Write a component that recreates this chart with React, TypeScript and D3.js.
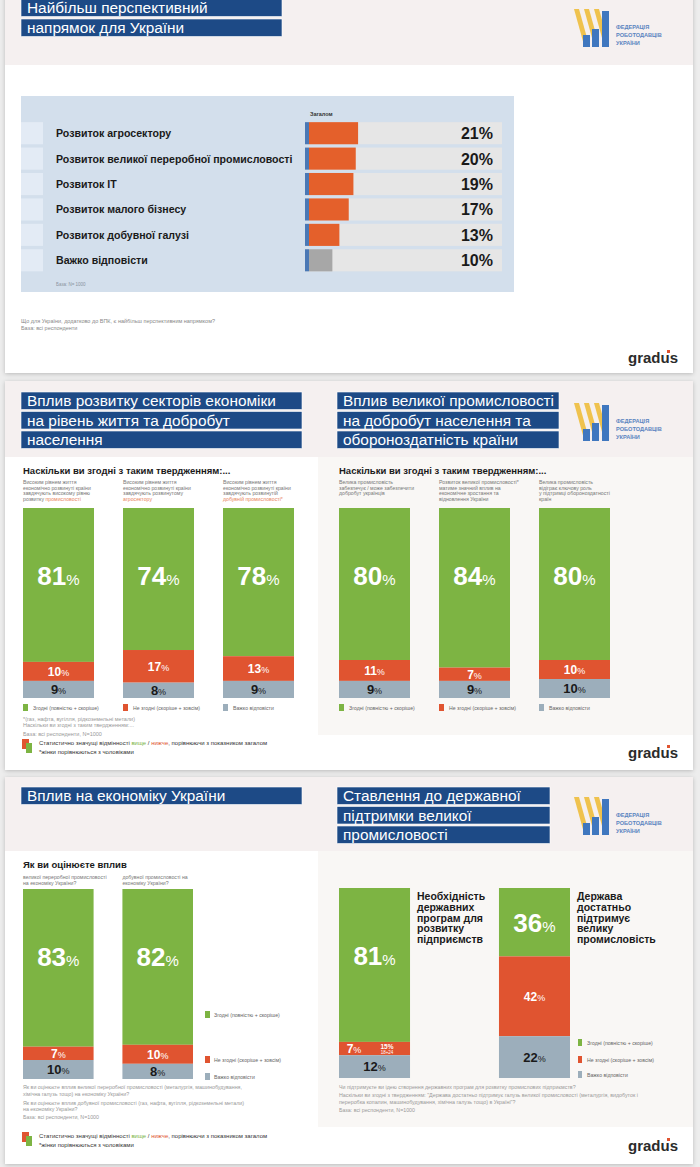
import React, { useRef, useEffect } from "react";
import * as d3 from "d3";

const W = 700;
const H = 1167;
const SANS = "'Liberation Sans', Arial, sans-serif";

const GREEN = "#7db443";
const RED = "#e05430";
const GREY_BLUE = "#9caebb";
const NAVY = "#1d4a86";
const ORANGE = "#e4602b";
const HILITE = "#e8845c";

// slide 1: most promising direction
const directions = [
    "Розвиток агросектору",
    "Розвиток великої переробної промисловості",
    "Розвиток IT",
    "Розвиток малого бізнесу",
    "Розвиток добувної галузі",
    "Важко відповісти",
];
const directionValues = [21, 20, 19, 17, 13, 10];

const legendLabels = ["Згодні (повністю + скоріше)", "Не згодні (скоріше + зовсім)", "Важко відповісти"];

// slide 2 left: sectors and living standard
const sectorQuestions = [
    ["Високим рівнем життя", "економічно розвинуті країни", "завдячують високому рівню", "розвитку |промисловості|"],
    ["Високим рівнем життя", "економічно розвинуті країни", "завдячують розвинутому", "|агросектору|"],
    ["Високим рівнем життя", "економічно розвинуті країни", "завдячують розвинутій", "|добувній промисловості*|"],
];
const sectorAgree = [81, 74, 78];
const sectorDisagree = [10, 17, 13];
const sectorHard = [9, 8, 9];

// slide 2 right: big industry
const industryQuestions = [
    ["Велика промисловість", "забезпечує / може забезпечити", "добробут українців"],
    ["Розвиток великої промисловості*", "матиме значний вплив на", "економічне зростання та", "відновлення України"],
    ["Велика промисловість", "відіграє ключову роль", "у підтримці обороноздатності", "країн"],
];
const industryAgree = [80, 84, 80];
const industryDisagree = [11, 7, 10];
const industryHard = [9, 9, 10];

// slide 3 left: impact on economy
const economyQuestions = [
    ["великої переробної промисловості", "на економіку України?"],
    ["добувної промисловості  на", "економіку України?"],
];
const economyAgree = [83, 82];
const economyDisagree = [7, 10];
const economyHard = [10, 8];

// slide 3 right: state support
const supportTitles = [
    ["Необхідність", "державних", "програм для", "розвитку", "підприємств"],
    ["Держава", "достатньо", "підтримує", "велику", "промисловість"],
];
const supportAgree = [81, 36];
const supportDisagree = [7, 42];
const supportHard = [12, 22];
const supportNote = { bar: 0, value: "15%", group: "18+24" };

const segColors = [GREEN, RED, GREY_BLUE];

type Sel = d3.Selection<any, any, any, any>;

function txt(g: Sel, x: number, y: number, s: string, size: number, fill = "#888", weight = "normal", anchor = "start") {
    return g.append("text")
        .attr("x", x).attr("y", y)
        .attr("font-family", SANS)
        .attr("font-size", size)
        .attr("font-weight", weight)
        .attr("fill", fill)
        .attr("text-anchor", anchor)
        .text(s);
}

function pct(g: Sel, x: number, y: number, v: string, size: number, pSize: number, fill: string, anchor = "middle") {
    const t = g.append("text")
        .attr("x", x).attr("y", y)
        .attr("font-family", SANS)
        .attr("font-weight", "bold")
        .attr("fill", fill)
        .attr("text-anchor", anchor);
    t.append("tspan").attr("font-size", size).text(v);
    t.append("tspan").attr("font-size", pSize).attr("font-weight", "normal").text("%");
    return t;
}

function drawCard(svg: Sel, top: number, bottom: number, headerBottom: number) {
    svg.append("rect")
        .attr("x", 5).attr("y", top).attr("width", 688).attr("height", bottom - top)
        .attr("fill", "#fff").attr("filter", "url(#shadow)");
    svg.append("rect")
        .attr("x", 5).attr("y", top).attr("width", 688).attr("height", headerBottom - top)
        .attr("fill", "#f5f0f0");
}

function drawTitle(svg: Sel, x: number, w: number, tops: number[], lines: string[]) {
    lines.forEach((l, i) => {
        svg.append("rect").attr("x", x).attr("y", tops[i]).attr("width", w).attr("height", 17.5)
            .attr("fill", NAVY).attr("stroke", "#fff").attr("stroke-width", 0.6);
        txt(svg, x + 6, tops[i] + 14.3, l, 15.4, "#fff");
    });
}

function drawLogo(svg: Sel, x: number, y: number) {
    const g = svg.append("g").attr("transform", `translate(${x},${y})`);
    // yellow slanted stripes
    [0, 10, 20].forEach(dx => {
        g.append("path")
            .attr("d", `M${dx},0 L${dx + 5},0 L${dx + 15},36 L${dx + 10},36 Z`)
            .attr("fill", "#efc24e");
    });
    // blue bars
    [[9, 26], [18, 20], [28, 2]].forEach(([bx, by]) => {
        g.append("rect").attr("x", bx).attr("y", by).attr("width", 7).attr("height", 38 - by).attr("fill", "#3f77bf");
    });
    ["ФЕДЕРАЦІЯ", "РОБОТОДАВЦІВ", "УКРАЇНИ"].forEach((s, i) => {
        txt(g, 42, 20 + i * 8, s, 5.6, "#5a84c0", "bold");
    });
}

function drawGradus(svg: Sel, y: number) {
    txt(svg, 628, y, "gradus", 15, "#2b2b2b", "bold");
    svg.append("rect").attr("x", 667).attr("y", y - 13).attr("width", 3).attr("height", 3).attr("fill", "#e05430");
}

function drawQuestion(g: Sel, x: number, y: number, lines: string[]) {
    lines.forEach((l, i) => {
        const t = g.append("text").attr("x", x).attr("y", y + i * 5.6)
            .attr("font-family", SANS).attr("font-size", 5.2).attr("fill", "#777");
        l.split("|").forEach((part, pi) => {
            if (part) t.append("tspan").attr("fill", pi % 2 ? HILITE : "#777").text(part);
        });
    });
}

function drawStatNote(svg: Sel, y: number) {
    svg.append("rect").attr("x", 22).attr("y", y).attr("width", 7).attr("height", 10).attr("fill", RED);
    svg.append("rect").attr("x", 26).attr("y", y + 4).attr("width", 6).attr("height", 10).attr("fill", GREEN);
    const t = svg.append("text").attr("x", 39).attr("y", y + 6)
        .attr("font-family", SANS).attr("font-size", 6).attr("fill", "#333");
    t.append("tspan").text("Статистично значущі відмінності ");
    t.append("tspan").attr("fill", GREEN).text("вище");
    t.append("tspan").text(" / ");
    t.append("tspan").attr("fill", RED).text("нижче");
    t.append("tspan").text(", порівнюючи з показником загалом");
    txt(svg, 39, y + 15, "*жінки порівнюються з чоловіками", 6, "#333");
}

function drawStack(
    svg: Sel,
    agree: number[], disagree: number[], hard: number[],
    range: [number, number], padding: number, top: number, bottom: number,
    bigY: number
) {
    const rows = agree.map((a, i) => ({ key: String(i), agree: a, disagree: disagree[i], hard: hard[i] }));
    const keys = ["agree", "disagree", "hard"];
    const series = d3.stack<any>().keys(keys).offset(d3.stackOffsetExpand)(rows);
    const x = d3.scaleBand().domain(rows.map(r => r.key)).range(range).paddingInner(padding);
    const y = d3.scaleLinear().domain([0, 1]).range([top, bottom]);

    series.forEach((s, si) => {
        svg.append("g").selectAll("rect").data(s).join("rect")
            .attr("x", (d: any) => x(d.data.key)!)
            .attr("y", (d: any) => y(d[0]))
            .attr("width", x.bandwidth())
            .attr("height", (d: any) => y(d[1]) - y(d[0]))
            .attr("fill", segColors[si]);
    });

    const sizes = [[26, 15, "#fff"], [12, 9, "#fff"], [13, 9, "#1a1a1a"]] as const;
    const labels: any[][] = [[], [], []];
    series.forEach((s, si) => {
        s.forEach((d: any, i: number) => {
            const cx = x(d.data.key)! + x.bandwidth() / 2;
            let cy = (y(d[0]) + y(d[1])) / 2;
            if (si === 0) cy = Math.min(cy, y(d[0]) + bigY);
            const [sz, psz, col] = sizes[si];
            labels[si].push(pct(svg, cx, cy + sz * 0.36, String(rows[i][keys[si]]), sz, psz, col));
        });
    });
    return { x, y, labels };
}

const App = () => {
    const svgRef = useRef<SVGSVGElement>(null);

    useEffect(() => {
        const svg = d3.select(svgRef.current);
        svg.selectAll("*").remove();

        const defs = svg.append("defs");
        const f = defs.append("filter").attr("id", "shadow").attr("x", "-5%").attr("y", "-5%").attr("width", "110%").attr("height", "110%");
        f.append("feDropShadow").attr("dx", 0).attr("dy", 1).attr("stdDeviation", 2).attr("flood-color", "#000").attr("flood-opacity", 0.22);

        svg.append("rect").attr("width", W).attr("height", H).attr("fill", "#ededed");

        // ---------- slide 1 ----------
        drawCard(svg, -10, 373, 65);
        drawTitle(svg, 21, 261, [-1, 19], ["Найбільш перспективний", "напрямок для України"]);
        drawLogo(svg, 574, 9);

        svg.append("rect").attr("x", 21).attr("y", 96).attr("width", 493).attr("height", 196).attr("fill", "#d3dfec");
        txt(svg, 310, 116, "Загалом", 5.5, "#333", "bold");

        const yRow = d3.scaleBand().domain(directions).range([120.5, 273]).paddingInner(0.13).paddingOuter(0.065);
        const xBar = d3.scaleLinear().domain([0, 80]).range([309, 496]);
        const rows1 = svg.append("g");
        directions.forEach((name, i) => {
            const y0 = yRow(name)!;
            const h = yRow.bandwidth();
            rows1.append("rect").attr("x", 21).attr("y", y0).attr("width", 22).attr("height", h).attr("fill", "#e3ebf5");
            txt(rows1, 56, y0 + h / 2 + 4, name, 10.6, "#1a1a1a", "bold");
            rows1.append("rect").attr("x", 305).attr("y", y0).attr("width", 197).attr("height", h).attr("fill", "#e6e6e6");
            rows1.append("rect").attr("x", xBar(0)).attr("y", y0).attr("width", xBar(directionValues[i]) - xBar(0)).attr("height", h)
                .attr("fill", i === directions.length - 1 ? "#a7a7a7" : ORANGE);
            rows1.append("rect").attr("x", 305).attr("y", y0).attr("width", 4).attr("height", h).attr("fill", "#4a78b5");
            txt(rows1, 493, y0 + h / 2 + 6, directionValues[i] + "%", 16, "#1a1a1a", "bold", "end");
        });
        txt(svg, 56, 286, "База: N= 1000", 4.5, "#8a93a0");
        txt(svg, 21, 323, "Що для України, додатково до ВПК, є найбільш перспективним напрямком?", 5.5, "#888");
        txt(svg, 21, 330, "База: всі респонденти", 5.5, "#888");
        drawGradus(svg, 363);

        // ---------- slide 2 ----------
        drawCard(svg, 381, 770, 457);
        svg.append("rect").attr("x", 318).attr("y", 457).attr("width", 375).attr("height", 278).attr("fill", "#f9f7f5");
        drawTitle(svg, 21, 281, [392, 411.5, 431], ["Вплив розвитку секторів економіки", "на рівень життя та добробут", "населення"]);
        drawTitle(svg, 337, 222, [392, 411.5, 431], ["Вплив великої промисловості", "на добробут населення та", "обороноздатність країни"]);
        drawLogo(svg, 574, 403);

        txt(svg, 23, 474, "Наскільки ви згодні з таким твердженням:...", 9.5, "#1a1a1a", "bold");
        txt(svg, 339, 474, "Наскільки ви згодні з таким твердженням:...", 9.5, "#1a1a1a", "bold");

        const xs = drawStack(svg, sectorAgree, sectorDisagree, sectorHard, [23, 294], 0.29, 508, 698, 68).x;
        const xi = drawStack(svg, industryAgree, industryDisagree, industryHard, [339, 610], 0.29, 508, 698, 68).x;
        sectorQuestions.forEach((q, i) => drawQuestion(svg, xs(String(i))!, 484, q));
        industryQuestions.forEach((q, i) => drawQuestion(svg, xi(String(i))!, 484, q));

        [xs, xi].forEach(xb => {
            legendLabels.forEach((l, i) => {
                const lx = xb(String(i))!;
                svg.append("rect").attr("x", lx).attr("y", 704).attr("width", 5).attr("height", 7).attr("fill", segColors[i]);
                txt(svg, lx + 10, 710, l, 5.2, "#666");
            });
        });

        txt(svg, 23, 721, "*(газ, нафта, вугілля, рідкоземельні метали)", 5.5, "#999");
        txt(svg, 23, 727, "Наскільки ви згодні з таким твердженням:...", 5.5, "#999");
        txt(svg, 23, 736, "База: всі респонденти, N=1000", 5.5, "#999");
        drawStatNote(svg, 739);
        drawGradus(svg, 758);

        // ---------- slide 3 ----------
        drawCard(svg, 777, 1164, 851);
        svg.append("rect").attr("x", 318).attr("y", 851).attr("width", 375).attr("height", 276).attr("fill", "#f9f7f5");
        drawTitle(svg, 21, 281, [787], ["Вплив на економіку України"]);
        drawTitle(svg, 337, 213, [787, 806.5, 826], ["Ставлення до державної", "підтримки великої", "промисловості"]);
        drawLogo(svg, 574, 797);

        txt(svg, 23, 868, "Як ви оцінюєте вплив", 9.5, "#1a1a1a", "bold");
        const xe = drawStack(svg, economyAgree, economyDisagree, economyHard, [23, 193], 0.29, 889, 1079, 68).x;
        economyQuestions.forEach((q, i) => drawQuestion(svg, xe(String(i))!, 879, q));

        const legY = [1015, 1060, 1077];
        legendLabels.forEach((l, i) => {
            svg.append("rect").attr("x", 205).attr("y", legY[i] - 4).attr("width", 5).attr("height", 7).attr("fill", segColors[i]);
            txt(svg, 214, legY[i] + 2, l, 5.2, "#666");
        });

        const sp = drawStack(svg, supportAgree, supportDisagree, supportHard, [339, 570], 0.556, 888, 1078, 68);
        const xp = sp.x;
        // first bar: red label moved left, age-group note beside it
        const nb = supportNote.bar;
        const bx = xp(String(nb))!;
        sp.labels[1][nb].attr("x", bx + 15);
        const tot = supportAgree[nb] + supportDisagree[nb] + supportHard[nb];
        const r0 = sp.y(supportAgree[nb] / tot);
        const r1 = sp.y((supportAgree[nb] + supportDisagree[nb]) / tot);
        txt(svg, bx + 48, r0 + 7, supportNote.value, 6.5, "#fff", "bold", "middle");
        txt(svg, bx + 48, r1 - 1.5, supportNote.group, 4.5, "#fff", "normal", "middle");

        supportTitles.forEach((lines, i) => {
            const tx = xp(String(i))! + 78;
            lines.forEach((l, li) => txt(svg, tx, 900 + li * 10.8, l, 10.5, "#1a1a1a", "bold"));
        });

        const legY2 = [1043, 1060, 1075];
        legendLabels.forEach((l, i) => {
            svg.append("rect").attr("x", 578).attr("y", legY2[i] - 4).attr("width", 4).attr("height", 7).attr("fill", segColors[i]);
            txt(svg, 587, legY2[i] + 2, l, 5.2, "#666");
        });

        [
            "Як ви оцінюєте вплив великої переробної промисловості (металургія, машинобудування,",
            "хімічна галузь тощо)  на економіку України?",
            "Як ви оцінюєте вплив добувної промисловості (газ, нафта, вугілля, рідкоземельні метали)",
            "на економіку України?",
            "База: всі респонденти, N=1000",
        ].forEach((s, i) => txt(svg, 23, [1089, 1096, 1105, 1111, 1119][i], s, 5.3, "#999"));
        [
            "Чи підтримуєте ви ідею створення державних програм для розвитку промислових підприємств?",
            "Наскільки ви згодні з твердженням: \"Держава достатньо підтримує галузь великої промисловості (металургія, видобуток і",
            "переробка копалин, машинобудування, хімічна галузь тощо) в Україні\"?",
            "База: всі респонденти, N=1000",
        ].forEach((s, i) => txt(svg, 339, [1089, 1097, 1104, 1112][i], s, 5.3, "#999"));

        drawStatNote(svg, 1132);
        drawGradus(svg, 1151);
    }, []);

    return (
        <svg ref={svgRef} width={W} height={H}
            style={{ position: "absolute", left: 0, top: 0, display: "block" }} />
    );
};

export default App;
